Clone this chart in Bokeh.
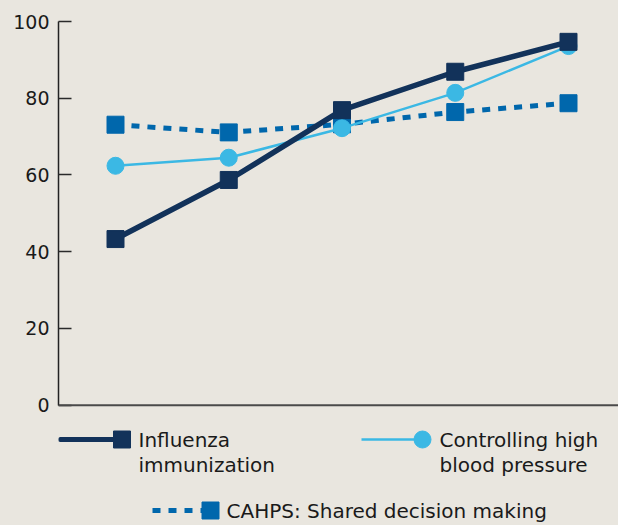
from bokeh.plotting import figure
from bokeh.models import Range1d, Span, FixedTicker
from bokeh.core.properties import value
from bokeh.embed import file_html
from bokeh.resources import INLINE

# ---------------- data ----------------
periods = [1, 2, 3, 4, 5]
influenza = [43.3, 58.7, 76.9, 86.9, 94.7]
blood_pressure = [62.4, 64.5, 72.2, 81.4, 93.6]
cahps = [73.1, 71.1, 73.2, 76.4, 78.7]
y_ticks = [0, 20, 40, 60, 80, 100]
legend_labels = ["Influenza\nimmunization",
                 "Controlling high\nblood pressure",
                 "CAHPS: Shared decision making"]

# ---------------- style ----------------
BG = "#E9E6DF"
NAVY = "#12325A"
LIGHT = "#3BB8E4"
MID = "#0067AC"
FONT = "DejaVu Sans"

FIG_W, FIG_H = 618, 525
LEFT, TOP = 58, 21
Y0_PX = 404.7                      # px of value 0
PPU = (Y0_PX - TOP) / 100.0        # px per unit (y)
X1_PX, XSTEP = 115.0, 113.25       # px of first period, px per period
TEXT_SHIFT = 6.5                   # compensation for text baseline rendering

y_min = 100 - (FIG_H - TOP) / PPU
x_min = periods[0] - (X1_PX - LEFT) / XSTEP
x_max = periods[0] + (FIG_W - X1_PX) / XSTEP

p = figure(width=FIG_W, height=FIG_H, output_backend="svg", toolbar_location=None,
           x_range=Range1d(x_min, x_max), y_range=Range1d(y_min, 100),
           x_axis_location=None, min_border_left=LEFT, min_border_top=TOP,
           min_border_right=0, min_border_bottom=0)
p.background_fill_color = BG
p.border_fill_color = BG
p.outline_line_color = None
p.xgrid.visible = False
p.ygrid.visible = False

ax = p.yaxis[0]
ax.ticker = FixedTicker(ticks=y_ticks)
ax.bounds = (0, 100)
ax.axis_line_color = "#222222"
ax.axis_line_width = 1.5
ax.major_tick_line_color = "#2a2a2a"
ax.major_tick_line_width = 1.5
ax.major_tick_in = 13
ax.major_tick_out = 0
ax.minor_tick_line_color = None
ax.major_label_standoff = 9
ax.major_label_text_font = FONT
ax.major_label_text_font_size = "19px"
ax.major_label_text_color = "#1a1a1a"

p.add_layout(Span(location=0, dimension="width", line_color="#4a4a4a", line_width=2))

# series (bottom to top)
p.line(periods, cahps, line_color=MID, line_width=5, line_dash="8 8")
p.scatter(periods, cahps, marker="square", size=17, fill_color=MID, line_color=MID)
p.line(periods, blood_pressure, line_color=LIGHT, line_width=2.5)
p.scatter(periods, blood_pressure, marker="circle", size=17, fill_color=LIGHT, line_color=LIGHT)
p.line(periods, influenza, line_color=NAVY, line_width=5.5)
p.scatter(periods, influenza, marker="square", size=17, fill_color=NAVY, line_color=NAVY)

# ---------------- legend (laid out in pixel positions) ----------------
def sx(px):  # px -> data x
    return periods[0] + (px - X1_PX) / XSTEP

def sy(py):  # px -> data y
    return (Y0_PX - py) / PPU

def legend_text(x_px, base_px, label):
    lines = label.split("\n")
    p.text([sx(x_px)] * len(lines),
           [sy(base_px - TEXT_SHIFT + 25 * i) for i in range(len(lines))],
           text=lines, text_font=value(FONT), text_font_size="20px",
           text_color="#1a1a1a", text_baseline="alphabetic", text_align="left")

# item 1
p.line([sx(60), sx(115)], [sy(439)] * 2, line_color=NAVY, line_width=5, line_cap="round")
p.scatter([sx(121.5)], [sy(439)], marker="square", size=17, fill_color=NAVY, line_color=NAVY)
legend_text(138, 446, legend_labels[0])
# item 2
p.line([sx(361), sx(418)], [sy(439)] * 2, line_color=LIGHT, line_width=2.5)
p.scatter([sx(422)], [sy(439)], marker="circle", size=17, fill_color=LIGHT, line_color=LIGHT)
legend_text(439, 446, legend_labels[1])
# item 3
p.line([sx(152), sx(205)], [sy(510)] * 2, line_color=MID, line_width=5, line_dash="8 8")
p.scatter([sx(210)], [sy(510)], marker="square", size=17, fill_color=MID, line_color=MID)
legend_text(226, 517, legend_labels[2])

html = file_html(p, INLINE)
html = html.replace("</head>", "<style>html,body{background-color:%s;}</style></head>" % BG, 1)
open("out.html", "w").write(html)
